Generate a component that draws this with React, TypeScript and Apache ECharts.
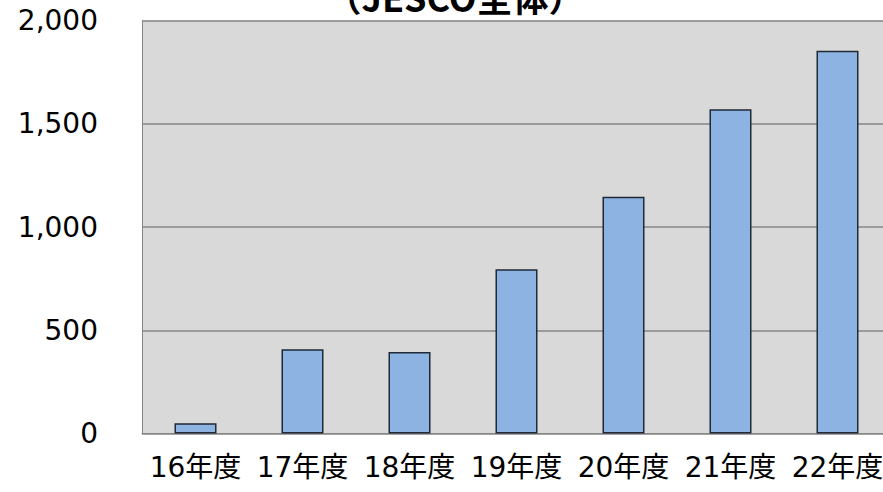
import React, { useEffect, useRef } from "react";
import * as echarts from "echarts";

const categories = ["16年度", "17年度", "18年度", "19年度", "20年度", "21年度", "22年度"];
const values = [50, 408, 395, 795, 1147, 1570, 1854];
const yTicks = [0, 500, 1000, 1500, 2000];
const titleText = "（JESCO全体）";

const FONT = "'DejaVu Sans', 'Noto Sans CJK JP', sans-serif";

export default function App() {
  const ref = useRef<HTMLDivElement>(null);
  useEffect(() => {
    if (!ref.current) return;
    const chart = echarts.init(ref.current, null, { renderer: "svg" });
    chart.setOption({
      animation: false,
      backgroundColor: "#ffffff",
      grid: { left: 142, top: 20.5, width: 749, height: 413, containLabel: false },
      graphic: [
        {
          type: "rect",
          shape: { x: 142, y: 20.5, width: 749, height: 413 },
          style: { fill: "#d9d9d9" },
          z: -1,
          silent: true,
        },
        {
          type: "text",
          x: 455,
          y: -4,
          style: {
            text: titleText,
            fontSize: 36,
            fontWeight: "bold",
            fontFamily: "'Noto Sans CJK JP', sans-serif",
            fill: "#000000",
            align: "center",
            verticalAlign: "middle",
          },
        },
      ],
      xAxis: {
        type: "category",
        data: categories,
        axisLine: { show: true, lineStyle: { color: "#868686", width: 1 } },
        axisTick: { show: false },
        axisLabel: {
          color: "#000000",
          fontSize: 28,
          fontFamily: FONT,
          margin: 20,
          interval: 0,
        },
      },
      yAxis: {
        type: "value",
        min: yTicks[0],
        max: yTicks[yTicks.length - 1],
        interval: 500,
        axisLine: { show: true, lineStyle: { color: "#868686", width: 1 } },
        axisTick: { show: false },
        splitLine: { show: true, lineStyle: { color: "#868686", width: 1.5 } },
        splitArea: { show: false },
        axisLabel: {
          color: "#000000",
          fontSize: 28,
          fontFamily: FONT,
          margin: 44,
          formatter: (v: number) => v.toLocaleString("en-US"),
        },
      },
      series: [
        {
          type: "bar",
          data: values,
          barWidth: 42,
          itemStyle: { color: "#8db3e2", borderColor: "#1f2937", borderWidth: 1.5 },
        },
      ],
    });
    return () => chart.dispose();
  }, []);
  return (
    <div
      ref={ref}
      style={{ position: "fixed", left: 0, top: 0, width: 891, height: 492 }}
    />
  );
}
